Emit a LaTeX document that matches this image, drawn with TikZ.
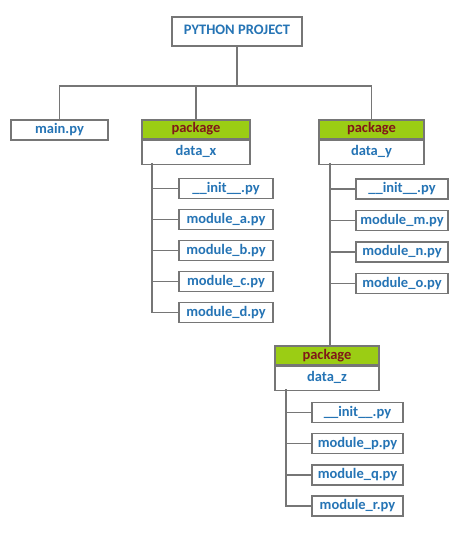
\documentclass[tikz,border=0pt]{standalone}
\usepackage{fontspec}
\setmainfont{Carlito}
\definecolor{txtblue}{RGB}{37,116,181}
\definecolor{pkgred}{RGB}{128,24,24}
\definecolor{pkggreen}{RGB}{155,205,20}
\definecolor{edgegray}{RGB}{118,118,118}
\begin{document}
\begin{tikzpicture}[x=1pt,y=-1pt,
  every node/.style={font=\fontsize{14.5}{16}\selectfont\bfseries, inner sep=0pt, text height=10pt, text depth=3pt},
  box/.style={draw=edgegray, line width=1.3pt, fill=white, text=txtblue, minimum height=20pt},
  pkghead/.style={draw=edgegray, line width=1.3pt, fill=pkggreen, text=pkgred, minimum height=19pt},
  pkgbody/.style={draw=edgegray, line width=1.3pt, fill=white, text=txtblue, minimum height=24pt},
  link/.style={draw=edgegray, line width=1.3pt}]
\useasboundingbox (0,0) rectangle (474,540);
% root
\node[box, minimum width=130pt, minimum height=29pt] (proj) at (237,31.5) {PYTHON PROJECT};
\coordinate (bus) at (237,86);
% level 1
\node[box, minimum width=97pt] (main) at (59.5,130) {main.py};
\node[pkghead, minimum width=108pt] (xh) at (196,129.5) {package};
\node[pkgbody, minimum width=108pt, anchor=north] (dx) at (xh.south) {data\_x};
\node[pkghead, minimum width=105pt] (yh) at (371.5,129.5) {package};
\node[pkgbody, minimum width=105pt, anchor=north] (dy) at (yh.south) {data\_y};
% data_x children
\node[box, minimum width=94pt] (xi) at (226,188.5) {\_\_init\_\_.py};
\node[box, minimum width=94pt] (xa) at (226,219.5) {module\_a.py};
\node[box, minimum width=94pt] (xb) at (226,250.5) {module\_b.py};
\node[box, minimum width=94pt] (xc) at (226,281.5) {module\_c.py};
\node[box, minimum width=94pt] (xd) at (226,312.5) {module\_d.py};
% data_y children
\node[box, minimum width=92pt] (yi) at (402,189) {\_\_init\_\_.py};
\node[box, minimum width=92pt] (ym) at (402,220.5) {module\_m.py};
\node[box, minimum width=92pt] (yn) at (402,252) {module\_n.py};
\node[box, minimum width=92pt] (yo) at (402,283.5) {module\_o.py};
% data_z
\node[pkghead, minimum width=104pt] (zh) at (327,355.5) {package};
\node[pkgbody, minimum width=104pt, anchor=north] (dz) at (zh.south) {data\_z};
\node[box, minimum width=91pt] (zi) at (357.5,412.5) {\_\_init\_\_.py};
\node[box, minimum width=91pt] (zp) at (357.5,443.5) {module\_p.py};
\node[box, minimum width=91pt] (zq) at (357.5,475) {module\_q.py};
\node[box, minimum width=91pt] (zr) at (357.5,506) {module\_r.py};
% trunks
\coordinate (tx) at (152,163);
\coordinate (ty) at (330,163);
\coordinate (tz) at (286,389);
% connectors
\draw[link] (proj.south) -- (bus);
\draw[link] (main.north) -- (main.north |- bus) -- (yh.north |- bus) -- (yh.north);
\draw[link] (xh.north |- bus) -- (xh.north);
\draw[link] (tx) -- (tx |- xd.west) -- (xd.west);
\foreach \c in {xi,xa,xb,xc} \draw[link] (tx |- \c.west) -- (\c.west);
\draw[link] (ty) -- (ty |- zh.north);
\foreach \c in {yi,ym,yn,yo} \draw[link] (ty |- \c.west) -- (\c.west);
\draw[link] (tz) -- (tz |- zr.west) -- (zr.west);
\foreach \c in {zi,zp,zq} \draw[link] (tz |- \c.west) -- (\c.west);
\end{tikzpicture}
\end{document}
